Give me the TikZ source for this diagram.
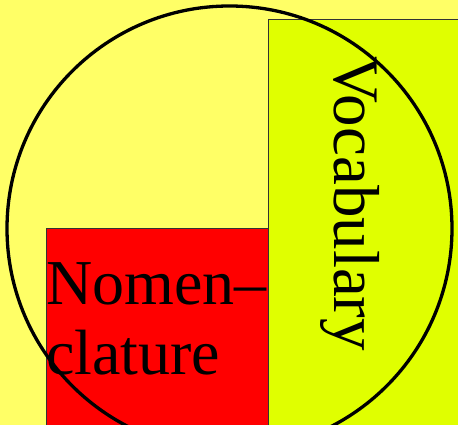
\documentclass[tikz,border=0pt]{standalone}
\usepackage{fontspec}
\setmainfont{Liberation Serif}
\usepackage{tikz}
\usetikzlibrary{positioning}
\usepackage{xcolor}
\definecolor{bgyellow}{HTML}{FFFF66}
\definecolor{vocgreen}{HTML}{E0FF00}
\definecolor{nomred}{HTML}{FF0000}

\begin{document}
\begin{tikzpicture}[
  x=1pt, y=1pt,
  area/.style={draw=black!80, line width=0.8pt},
  word/.style={inner sep=0pt, font=\fontsize{64}{70}\selectfont}
]
\fill[bgyellow] (0,0) rectangle (458,425);
\useasboundingbox (0,0) rectangle (458,425);

\filldraw[area, fill=vocgreen] (268,0) rectangle (459,406);
\filldraw[area, fill=nomred] (46,-1) rectangle (268,197);
\draw[line width=3.3pt] (229.5,196.5) circle[radius=222.5];

\node[word, anchor=base west, align=left] (nomen) at (46,50) {Nomen--\\clature};
\node[word, anchor=base west, rotate=-90, font=\fontsize{65}{70}\selectfont] (vocab) at (334,369) {Vocabulary};
\end{tikzpicture}
\end{document}
